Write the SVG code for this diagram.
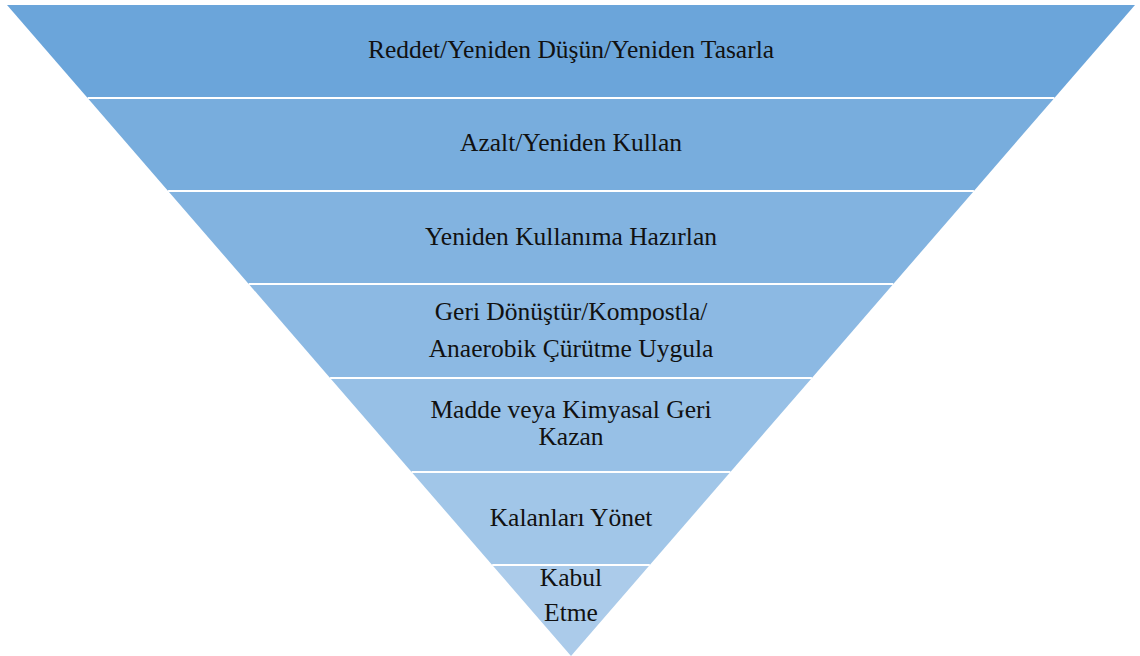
<svg xmlns="http://www.w3.org/2000/svg" width="1140" height="656" viewBox="0 0 1140 656">
<style>
.t{font-family:'Liberation Serif','Times New Roman',serif;font-size:25.5px;fill:#111;text-anchor:middle}
.sep{stroke:#fff;stroke-width:2}
</style>
<rect width="1140" height="656" fill="#fff"/>
<g id="band1"><polygon points="7,5 1135,5 1054.4,98 87.6,98" fill="#6ba5da"/><text class="t" x="571" y="58">Reddet/Yeniden Düşün/Yeniden Tasarla</text></g>
<g id="band2"><polygon points="87.6,98 1054.4,98 973.9,191 168.1,191" fill="#78addd"/><text class="t" x="571" y="151">Azalt/Yeniden Kullan</text></g>
<g id="band3"><polygon points="168.1,191 973.9,191 893.3,284 248.7,284" fill="#82b3e0"/><text class="t" x="571" y="245">Yeniden Kullanıma Hazırlan</text></g>
<g id="band4"><polygon points="248.7,284 893.3,284 811.9,378 330.1,378" fill="#8cb9e3"/><text class="t" x="571" y="320">Geri Dönüştür/Kompostla/</text><text class="t" x="571" y="357">Anaerobik Çürütme Uygula</text></g>
<g id="band5"><polygon points="330.1,378 811.9,378 730.4,472 411.6,472" fill="#97c0e6"/><text class="t" x="571" y="418">Madde veya Kimyasal Geri</text><text class="t" x="571" y="445">Kazan</text></g>
<g id="band6"><polygon points="411.6,472 730.4,472 649.8,565 492.2,565" fill="#a1c6e8"/><text class="t" x="571" y="526">Kalanları Yönet</text></g>
<g id="band7"><polygon points="492.2,565 649.8,565 571,656" fill="#abcbea"/><text class="t" x="571" y="586">Kabul</text><text class="t" x="571" y="621">Etme</text></g>
<g id="connectors">
<line class="sep" x1="87.6" y1="98" x2="1054.4" y2="98"/>
<line class="sep" x1="168.1" y1="191" x2="973.9" y2="191"/>
<line class="sep" x1="248.7" y1="284" x2="893.3" y2="284"/>
<line class="sep" x1="330.1" y1="378" x2="811.9" y2="378"/>
<line class="sep" x1="411.6" y1="472" x2="730.4" y2="472"/>
<line class="sep" x1="492.2" y1="565" x2="649.8" y2="565"/>
</g>
</svg>
